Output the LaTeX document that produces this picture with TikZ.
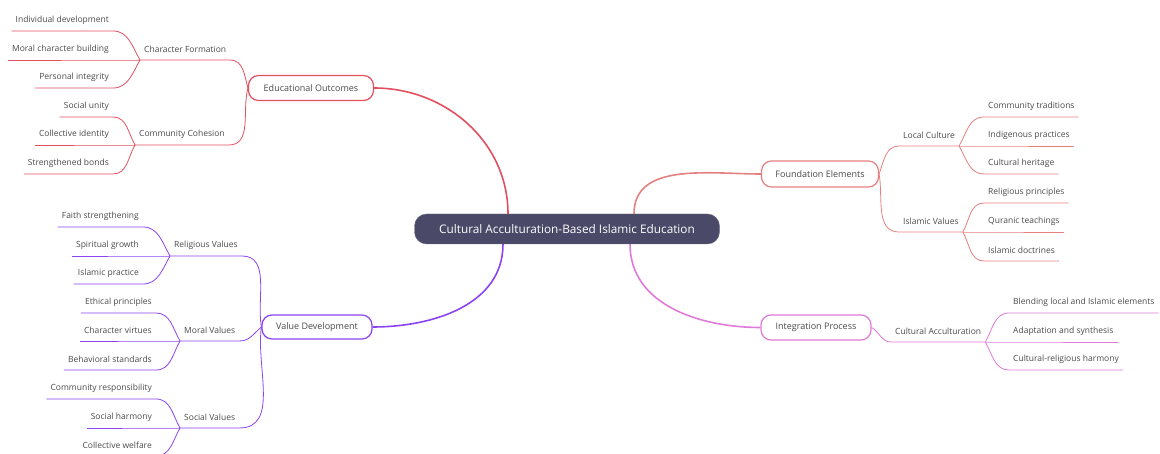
\documentclass[tikz,border=0pt]{standalone}
\usepackage{fontspec}
\setmainfont{Open Sans}
\usetikzlibrary{positioning}

\definecolor{edured}{HTML}{E2505F}
\definecolor{valpurple}{HTML}{8B44F0}
\definecolor{fndsalmon}{HTML}{E58080}
\definecolor{intpink}{HTML}{E07AD8}
\definecolor{hubslate}{HTML}{4A4A68}
\definecolor{txtgray}{HTML}{4A4A4A}

\begin{document}
\begin{tikzpicture}[x=1pt,y=-1pt,
    hub/.style={rounded corners=12pt, fill=hubslate, draw=hubslate!80, text=white,
        minimum width=305pt, minimum height=30pt, font=\fontsize{11.8}{14}\selectfont},
    topic/.style={rounded corners=10pt, draw, line width=1.2pt, fill=white, text=txtgray,
        minimum height=25pt, font=\fontsize{9}{11}\selectfont},
    sub/.style={text=txtgray, minimum height=21.5pt, inner xsep=4pt, inner ysep=0pt,
        font=\fontsize{8.5}{10}\selectfont},
    leaf/.style={sub},
    trunk/.style={line width=1.6pt},
    twig/.style={line width=0.8pt}]

%\draw [help lines,step=10] (0,0) grid (1160,454);
    \useasboundingbox (0,0) rectangle (1160,454);
    \clip (0,0) rectangle (1160,454);

	%%% centre
    \node[hub] (C) at (567,229) {Cultural Acculturation-Based Islamic Education};
    \coordinate (c1) at ([xshift=-59pt]C.north);
    \coordinate (c2) at ([xshift=-64pt]C.south);
    \coordinate (c3) at ([xshift=67pt]C.north);
    \coordinate (c4) at ([xshift=63pt]C.south);

	%%% main topics
    \node[topic, draw=edured, minimum width=125pt] (EO) at (311,88) {Educational Outcomes};
    \node[topic, draw=valpurple, minimum width=110pt, minimum height=24pt] (VD) at (317,327) {Value Development};
    \node[topic, draw=fndsalmon, minimum width=117pt, minimum height=26pt] (FE) at (820,174) {Foundation Elements};
    \node[topic, draw=intpink, minimum width=110pt] (IP) at (816,327.5) {Integration Process};

    \draw[trunk, edured] (EO.east) to[out=0, in=90] (c1);
    \draw[trunk, valpurple] (VD.east) to[out=0, in=-90] (c2);
    \draw[trunk, fndsalmon] (FE.west) to[out=180, in=90] (c3);
    \draw[trunk, intpink] (IP.west) to[out=180, in=-90] (c4);

	%%% educational outcomes
    \node[sub, anchor=south west] (CF) at (140,60) {Character Formation};
    \node[sub, anchor=south west] (CC) at (135,145) {Community Cohesion};

    \node[leaf, anchor=south east] (ID) at (113,31) {Individual development};
    \node[leaf, anchor=south east] (MCB) at (113,60) {Moral character building};
    \node[leaf, anchor=south east] (PI) at (113,88) {Personal integrity};

    \node[leaf, anchor=south east] (SU) at (113,117) {Social unity};
    \node[leaf, anchor=south east] (CI) at (113,145) {Collective identity};
    \node[leaf, anchor=south east] (SB) at (113,174) {Strengthened bonds};

    \begin{scope}[edured, twig]
    \draw (EO.west) to[out=105, in=0] (CF.south east) -- (CF.south west);
    \draw (EO.west) to[out=255, in=0] (CC.south east) -- (CC.south west);
    \draw (CF.south west) to[out=120, in=0] (ID.south east) -- (ID.south west);
    \draw (CF.south west) -- (MCB.south east) -- (MCB.south west);
    \draw (CF.south west) to[out=240, in=0] (PI.south east) -- (PI.south west);
    \draw (CC.south west) to[out=120, in=0] (SU.south east) -- (SU.south west);
    \draw (CC.south west) -- (CI.south east) -- (CI.south west);
    \draw (CC.south west) to[out=240, in=0] (SB.south east) -- (SB.south west);
    \end{scope}

	%%% value development
    \node[sub, anchor=south west] (RV) at (170,256) {Religious Values};
    \node[sub, anchor=south west] (MV) at (180,341) {Moral Values};
    \node[sub, anchor=south west] (SV) at (180,428) {Social Values};

    \node[leaf, anchor=south east] (FS) at (143,227) {Faith strengthening};
    \node[leaf, anchor=south east] (SG) at (143,256) {Spiritual growth};
    \node[leaf, anchor=south east] (IPr) at (143,284) {Islamic practice};

    \node[leaf, anchor=south east] (EP) at (156,313) {Ethical principles};
    \node[leaf, anchor=south east] (CV) at (156,341) {Character virtues};
    \node[leaf, anchor=south east] (BS) at (156,370) {Behavioral standards};

    \node[leaf, anchor=south east] (CR) at (156,399) {Community responsibility};
    \node[leaf, anchor=south east] (SH) at (156,428) {Social harmony};
    \node[leaf, anchor=south east] (CW) at (156,456) {Collective welfare};

    \begin{scope}[valpurple, twig]
    \draw (VD.west) to[out=100, in=0] (RV.south east) -- (RV.south west);
    \draw (VD.west) to[out=220, in=0] (MV.south east) -- (MV.south west);
    \draw (VD.west) to[out=262, in=0] (SV.south east) -- (SV.south west);
    \draw (RV.south west) to[out=120, in=0] (FS.south east) -- (FS.south west);
    \draw (RV.south west) -- (SG.south east) -- (SG.south west);
    \draw (RV.south west) to[out=240, in=0] (IPr.south east) -- (IPr.south west);
    \draw (MV.south west) to[out=120, in=0] (EP.south east) -- (EP.south west);
    \draw (MV.south west) -- (CV.south east) -- (CV.south west);
    \draw (MV.south west) to[out=240, in=0] (BS.south east) -- (BS.south west);
    \draw (SV.south west) to[out=120, in=0] (CR.south east) -- (CR.south west);
    \draw (SV.south west) -- (SH.south east) -- (SH.south west);
    \draw (SV.south west) to[out=240, in=0] (CW.south east) -- (CW.south west);
    \end{scope}

	%%% foundation elements
    \node[sub, anchor=south west] (LC) at (899,146) {Local Culture};
    \node[sub, anchor=south west] (IV) at (899,232) {Islamic Values};

    \node[leaf, anchor=south west] (CT) at (984,117) {Community traditions};
    \node[leaf, anchor=south west] (IPc) at (984,146) {Indigenous practices};
    \node[leaf, anchor=south west] (CH) at (984,174) {Cultural heritage};

    \node[leaf, anchor=south west] (RP) at (984,203) {Religious principles};
    \node[leaf, anchor=south west] (QT) at (984,232) {Quranic teachings};
    \node[leaf, anchor=south west] (IDc) at (984,261) {Islamic doctrines};

    \begin{scope}[fndsalmon, twig]
    \draw (FE.east) to[out=70, in=180] (LC.south west) -- (LC.south east);
    \draw (FE.east) to[out=-80, in=180] (IV.south west) -- (IV.south east);
    \draw (LC.south east) to[out=60, in=180] (CT.south west) -- (CT.south east);
    \draw (LC.south east) -- (IPc.south west) -- (IPc.south east);
    \draw (LC.south east) to[out=-60, in=180] (CH.south west) -- (CH.south east);
    \draw (IV.south east) to[out=60, in=180] (RP.south west) -- (RP.south east);
    \draw (IV.south east) -- (QT.south west) -- (QT.south east);
    \draw (IV.south east) to[out=-60, in=180] (IDc.south west) -- (IDc.south east);
    \end{scope}

	%%% integration process
    \node[sub, anchor=south west] (CA) at (891,342) {Cultural Acculturation};

    \node[leaf, anchor=south west] (BL) at (1009,313) {Blending local and Islamic elements};
    \node[leaf, anchor=south west] (AS) at (1009,342) {Adaptation and synthesis};
    \node[leaf, anchor=south west] (CRH) at (1009,370) {Cultural-religious harmony};

    \begin{scope}[intpink, twig]
    \draw (IP.east) to[out=-30, in=180] (CA.south west) -- (CA.south east);
    \draw (CA.south east) to[out=60, in=180] (BL.south west) -- (BL.south east);
    \draw (CA.south east) -- (AS.south west) -- (AS.south east);
    \draw (CA.south east) to[out=-60, in=180] (CRH.south west) -- (CRH.south east);
    \end{scope}

\end{tikzpicture}
\end{document}
